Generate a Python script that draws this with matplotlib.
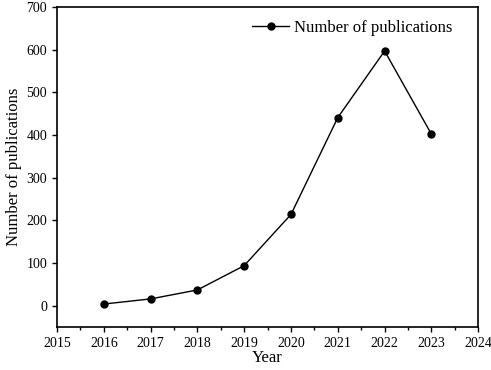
import matplotlib
matplotlib.use('Agg')
import matplotlib.pyplot as plt
from matplotlib.ticker import MultipleLocator

plt.rcParams['font.family'] = ['Liberation Serif', 'DejaVu Serif']

years = [2016, 2017, 2018, 2019, 2020, 2021, 2022, 2023]
publications = [4, 16, 37, 94, 214, 441, 597, 402]

fig = plt.figure(figsize=(4.91, 3.70), dpi=100)
ax = fig.add_axes([0.116, 0.116, 0.858, 0.865])

ax.plot(years, publications, color='k', linewidth=1.0, marker='o',
        markersize=5, label='Number of publications')

ax.set_xlim(2015, 2024)
ax.set_ylim(-50, 700)
ax.xaxis.set_major_locator(MultipleLocator(1))
ax.xaxis.set_minor_locator(MultipleLocator(0.5))
ax.yaxis.set_major_locator(MultipleLocator(100))
ax.tick_params(axis='both', which='major', direction='out', length=3.5,
               width=1, labelsize=10)
ax.tick_params(axis='x', which='minor', direction='out', length=2, width=1)
for s in ax.spines.values():
    s.set_linewidth(1.2)

ax.set_xlabel('Year', fontsize=12, labelpad=0)
ax.set_ylabel('Number of publications', fontsize=12, labelpad=3)

ax.legend(loc='upper right', bbox_to_anchor=(0.962, 0.99), frameon=False,
          fontsize=12, handlelength=2.2, borderaxespad=0.2, handletextpad=0.3)

fig.savefig('out.png', dpi=100)
